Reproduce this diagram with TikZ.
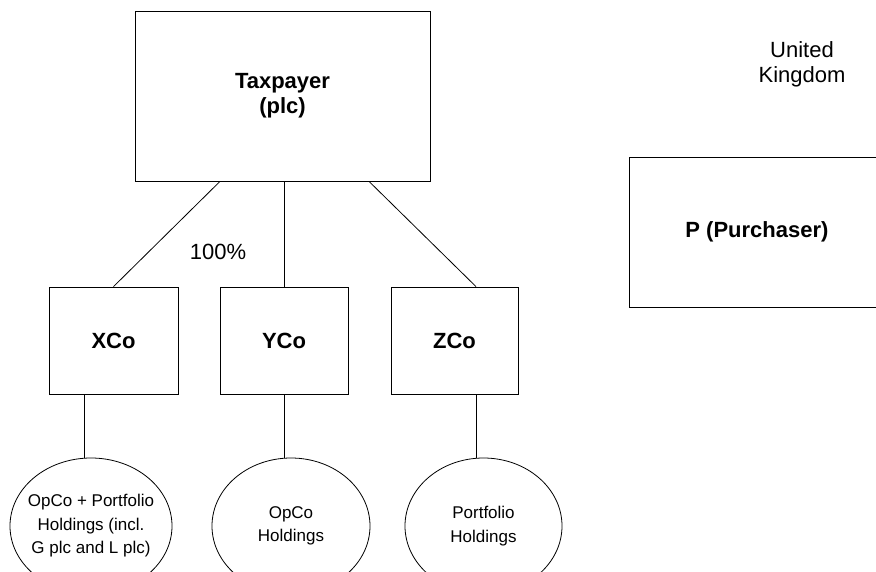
\documentclass[tikz,border=0pt]{standalone}
\usepackage{fontspec}
\setmainfont{Liberation Sans}
\usepackage{tikz}
\usetikzlibrary{positioning,shapes.geometric}

\tikzset{
  company/.style={draw, line width=0.8pt, inner sep=0pt, align=center,
    font=\fontsize{22}{25}\selectfont\bfseries},
  holding/.style={draw, ellipse, line width=0.8pt, inner xsep=-15pt, inner ysep=0pt, align=center,
    minimum height=136pt, font=\fontsize{17}{23.5}\selectfont},
  plain/.style={inner sep=0pt, align=center, font=\fontsize{22}{25}\selectfont},
  link/.style={line width=0.8pt}
}

\begin{document}
\begin{tikzpicture}[x=1pt,y=-1pt]

\clip (0,0) rectangle (876,572);

% parent and subsidiaries
\node [company, minimum width=295pt, minimum height=170pt] (tax) at (282.5,96) {Taxpayer\\(plc)};
\node [company, minimum width=129pt, minimum height=107pt] (xco) at (113.5,340.5) {XCo};
\node [company, minimum width=128pt, minimum height=107pt] (yco) at (284,340.5) {YCo};
\node [company, minimum width=127pt, minimum height=107pt] (zco) at (454.5,340.5) {ZCo};

% holdings
\node [holding, minimum width=162pt] (xhold) at (91,526) {OpCo + Portfolio\\Holdings (incl.\\G plc and L plc)};
\node [holding, minimum width=158pt] (yhold) at (291,526) {OpCo\\Holdings};
\node [holding, minimum width=157pt] (zhold) at (483.5,526) {Portfolio\\Holdings};

% purchaser side
\node [plain] (uk) at (802,64) {United\\Kingdom};
\node [company, minimum width=256pt, minimum height=150pt] (pur) at (757,232) {P (Purchaser)};

\node [plain] (pct) at (218,252) {100\%};

\draw [link] ([xshift=-62.5pt]tax.south) -- (xco.north);
\draw [link] (tax.south) ++(1.5,0) -- (yco.north);
\draw [link] ([xshift=86.5pt]tax.south) -- ([xshift=21.5pt]zco.north);

\draw [link] ([xshift=-29.5pt]xco.south) -- ([xshift=-29.5pt]xco.south |- xhold.north);
\draw [link] (yco.south) -- (yco.south |- yhold.north);
\draw [link] ([xshift=21.5pt]zco.south) -- ([xshift=21.5pt]zco.south |- zhold.north);

\end{tikzpicture}
\end{document}
